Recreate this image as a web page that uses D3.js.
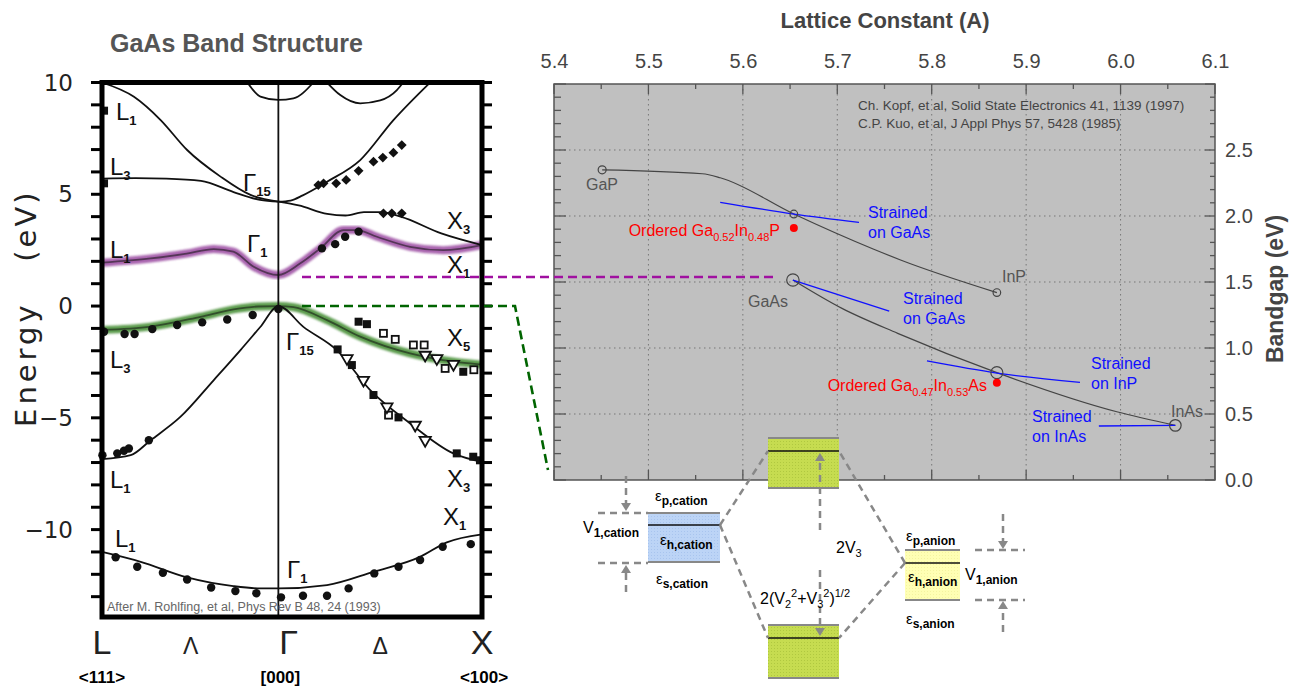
<!DOCTYPE html>
<html><head><meta charset="utf-8">
<script src="https://cdn.jsdelivr.net/npm/d3@7"></script>
<style>body{margin:0;background:#fff}svg{display:block}</style>
</head><body>
<svg id="fig" width="1300" height="687"></svg>
<script>
// ================= GaAs band structure (k path L – Γ – X, energy in eV) =================
const kSymbols = ["L", "Λ", "Γ", "Δ", "X"];
const kSymbolPos = [-0.866, -0.43, 0.05, 0.5, 1];
const kDirections = ["<111>", "[000]", "<100>"];
const kDirectionPos = [-0.866, 0.01, 1.01];
const energyTicks = [10, 5, 0, -5, -10];

// calculated bands
const bandUpperL = [[-0.866,10.0],[-0.709,9.36],[-0.578,8.32],[-0.448,6.98],[-0.284,5.79],[-0.137,4.97],[0,4.67]];
const bandL3c = [[-0.866,5.7],[-0.7,5.72],[-0.55,5.7],[-0.38,5.6],[-0.22,5.1],[-0.09,4.75],[0,4.67]];
const bandUpperR = [[0,4.67],[0.06,4.72],[0.12,4.95],[0.239,5.56],[0.402,6.53],[0.565,8.32],[0.745,10.0]];
const bandX3c = [[0,4.67],[0.1,4.5],[0.24,4.12],[0.33,4.05],[0.42,4.2],[0.5,4.2],[0.6,4.0],[0.8,3.25],[1,2.73]];
const bandTopU1 = [[-0.152,10.0],[-0.088,9.37],[0,9.22],[0.074,9.29],[0.172,10.0]];
const bandTopU2 = [[0.239,10.0],[0.304,9.44],[0.402,9.07],[0.5,9.2],[0.582,9.66],[0.613,10.0]];
const bandCond = [[-0.866,1.94],[-0.627,2.13],[-0.45,2.35],[-0.317,2.55],[-0.221,2.43],[-0.121,1.76],[0,1.39],[0.108,1.91],[0.206,2.58],[0.32,3.4],[0.386,3.4],[0.484,3.1],[0.647,2.65],[0.81,2.5],[1,2.73]];
const bandHeavy = [[-0.866,-1.07],[-0.627,-0.92],[-0.382,-0.48],[-0.22,-0.15],[-0.1,-0.02],[0,0],[0.075,-0.05],[0.239,-0.63],[0.402,-1.37],[0.647,-2.12],[0.809,-2.42],[1,-2.62]];
const bandLight = [[-0.866,-6.85],[-0.725,-6.67],[-0.627,-6.0],[-0.48,-4.95],[-0.317,-3.31],[-0.186,-1.97],[-0.09,-0.95],[0,0],[0.123,-0.93],[0.287,-1.97],[0.451,-3.76],[0.647,-5.25],[0.859,-6.59],[1,-6.97]];
const bandLowest = [[-0.866,-11.0],[-0.676,-11.44],[-0.448,-12.14],[-0.221,-12.53],[-0.088,-12.63],[0,-12.63],[0.239,-12.48],[0.466,-11.89],[0.696,-11.22],[0.827,-10.57],[1,-10.21]];

// measured points
const expCircles = [
  [-0.799,-11.24],[-0.693,-11.66],[-0.567,-11.93],[-0.448,-12.23],[-0.330,-12.59],[-0.211,-12.75],[-0.108,-12.85],
  [0.013,-13.03],[0.121,-12.96],[0.239,-12.96],[0.345,-12.63],[0.471,-11.96],[0.590,-11.66],[0.696,-11.36],[0.807,-10.77],[0.945,-10.65],
  [-0.864,-6.67],[-0.791,-6.59],[-0.758,-6.47],[-0.734,-6.37],[-0.636,-6.0],
  [-0.856,-1.15],[-0.755,-1.25],[-0.706,-1.25],[-0.619,-1.03],[-0.497,-0.85],[-0.374,-0.73],[-0.251,-0.6],[-0.126,-0.4],[0,-0.13],
  [0.214,2.58],[0.279,2.77],[0.328,3.1],[0.394,3.33]
];
const expSquares = [[-0.856,8.74],[-0.856,5.49],[0.394,-0.70],[0.435,-0.81],[0.908,-2.94],[0.291,-1.94],[0.361,-2.64],[0.467,-3.98],[0.59,-4.98],[0.876,-6.59],[0.957,-6.74],[0.99,-6.9]];
const expOpenSquares = [[0.516,-1.22],[0.574,-1.49],[0.663,-1.74],[0.716,-1.74],[0.819,-2.79],[0.541,-4.88],[0.96,-2.85]];
const expTriangles = [[0.721,-2.19],[0.778,-2.34],[0.337,-2.34],[0.418,-3.31],[0.533,-4.5],[0.672,-5.32],[0.721,-6.0],[0.86,-2.6]];
const expDiamonds = [[0.196,5.41],[0.222,5.49],[0.284,5.49],[0.333,5.64],[0.394,6.05],[0.467,6.46],[0.513,6.64],[0.565,6.86],[0.606,7.2],[0.516,4.15],[0.557,4.15],[0.606,4.15]];

// symmetry point labels: symbol, subscript
const bandLabelText = [["L","1"],["L","3"],["Γ","15"],["L","1"],["Γ","1"],["X","3"],["X","1"],["L","3"],["Γ","15"],["X","5"],["L","1"],["X","3"],["X","1"],["L","1"],["Γ","1"]];

// ================= Bandgap vs lattice constant =================
const latticeTicks = [5.4,5.5,5.6,5.7,5.8,5.9,6.0,6.1];
const gapTicks = [0,0.5,1.0,1.5,2.0,2.5];
const gaInPLattice = [5.451,5.557,5.576,5.654,5.738,5.767,5.869];
const gaInPGap     = [2.35,2.32,2.29,2.015,1.75,1.667,1.42];
const gaInAsLattice = [5.653,5.705,5.764,5.869,5.996,6.058];
const gaInAsGap     = [1.515,1.30,1.111,0.813,0.517,0.414];
const binaryNames = ["GaP","GaAs","InP","InAs"];
const binaryLattice = [5.451,5.653,5.869,6.058];
const binaryGap = [2.35,1.515,1.42,0.414];
const matchedLattice = [5.654,5.869];
const matchedGap = [2.015,0.813];
const orderedLattice = [5.654,5.869];
const orderedGap = [1.909,0.737];
const strainedOnGaAsP = [[5.576,2.104],[5.654,2.015],[5.723,1.952]];
const strainedOnGaAs = [[5.653,1.515],[5.755,1.28]];
const strainedOnInP = [[5.795,0.902],[5.869,0.81],[5.957,0.74]];
const strainedOnInAs = [[5.977,0.409],[6.058,0.414]];
const strainedSubstrates = ["on GaAs","on GaAs","on InP","on InAs"];
const sources = ["Ch. Kopf, et al, Solid State Electronics 41, 1139 (1997)","C.P. Kuo, et al, J Appl Phys 57, 5428 (1985)"];

const svg = d3.select("#fig");
const defs = svg.append("defs");
const SANS = "'Liberation Sans', Arial, sans-serif";

// rich text helper: parts are [string, offset] with offset "sub", "sup" or none
function rich(parent, x, y, parts, opts) {
  const o = Object.assign({ size: 16, small: 11, color: "#000", anchor: "start", subBold: false, subDy: 5, supDy: -7 }, opts || {});
  const t = parent.append("text").attr("x", x).attr("y", y).attr("font-family", SANS).attr("font-size", o.size)
    .attr("fill", o.color).attr("text-anchor", o.anchor);
  let cur = 0;
  parts.forEach(([s, pos]) => {
    const target = pos === "sub" ? o.subDy : pos === "sup" ? o.supDy : 0;
    const ts = t.append("tspan").attr("dy", target - cur).text(s);
    if (pos) { ts.attr("font-size", o.small); if (o.subBold) ts.attr("font-weight", "bold"); }
    cur = target;
  });
  return t;
}

// ---------------- left panel ----------------
const bx = d3.scaleLinear().domain([-0.866, 1]).range([102, 482]);
const by = d3.scaleLinear().domain([-10, 10]).range([529.6, 82.5]);
const eBottom = by.invert(617);
const left = svg.append("g");

left.append("text").attr("x", 110).attr("y", 52).attr("font-family", SANS).attr("font-weight", "bold")
  .attr("font-size", 25).attr("fill", "#555").text("GaAs Band Structure");

const blur = defs.append("filter").attr("id", "soft");
blur.append("feGaussianBlur").attr("stdDeviation", 0.9);

const bandLine = d3.line().x(d => bx(d[0])).y(d => by(d[1])).curve(d3.curveMonotoneX);

// highlighted bands (drawn under the black curves)
left.append("path").attr("d", bandLine(bandCond)).attr("fill", "none").attr("stroke", "#9a4aa0")
  .attr("stroke-width", 8).attr("opacity", 0.85).attr("filter", "url(#soft)");
left.append("path").attr("d", bandLine(bandHeavy)).attr("fill", "none").attr("stroke", "#3f8a2e")
  .attr("stroke-width", 8).attr("opacity", 0.85).attr("filter", "url(#soft)");

[bandUpperL, bandL3c, bandUpperR, bandX3c, bandTopU1, bandTopU2, bandCond, bandHeavy, bandLight, bandLowest]
  .forEach(b => left.append("path").attr("d", bandLine(b)).attr("fill", "none").attr("stroke", "#111")
    .attr("stroke-width", 1.8).attr("opacity", (b === bandCond || b === bandHeavy) ? 0.55 : 1));

// Γ line
left.append("line").attr("x1", bx(0)).attr("x2", bx(0)).attr("y1", by(10)).attr("y2", 617)
  .attr("stroke", "#111").attr("stroke-width", 1.8);

// experimental points
left.selectAll(".ec").data(expCircles).join("circle").attr("cx", d => bx(d[0])).attr("cy", d => by(d[1]))
  .attr("r", 4.2).attr("fill", "#111");
left.selectAll(".es").data(expSquares).join("rect").attr("x", d => bx(d[0]) - 4).attr("y", d => by(d[1]) - 4)
  .attr("width", 8).attr("height", 8).attr("fill", "#111");
left.selectAll(".eo").data(expOpenSquares).join("rect").attr("x", d => bx(d[0]) - 3.5).attr("y", d => by(d[1]) - 3.5)
  .attr("width", 7).attr("height", 7).attr("fill", "#fff").attr("stroke", "#111").attr("stroke-width", 1.8);
left.selectAll(".et").data(expTriangles).join("path")
  .attr("d", d3.symbol(d3.symbolTriangle, 55)).attr("transform", d => `translate(${bx(d[0])},${by(d[1])}) rotate(180)`)
  .attr("fill", "#fff").attr("stroke", "#111").attr("stroke-width", 1.8);
left.selectAll(".ed").data(expDiamonds).join("path")
  .attr("d", d3.symbol(d3.symbolSquare, 48)).attr("transform", d => `translate(${bx(d[0])},${by(d[1])}) rotate(45)`)
  .attr("fill", "#111");

// frame
left.append("rect").attr("x", bx(-0.866)).attr("y", by(10)).attr("width", bx(1) - bx(-0.866)).attr("height", 617 - by(10))
  .attr("fill", "none").attr("stroke", "#000").attr("stroke-width", 5);
// energy ticks, 1 eV apart, on both sides
const eTicks = d3.range(10, eBottom, -1);
left.selectAll(".tl").data(eTicks).join("line").attr("x1", bx(-0.866) - 11).attr("x2", bx(-0.866))
  .attr("y1", d => by(d)).attr("y2", d => by(d)).attr("stroke", "#000").attr("stroke-width", 3);
left.selectAll(".tr").data(eTicks).join("line").attr("x1", bx(1)).attr("x2", bx(1) + 10)
  .attr("y1", d => by(d)).attr("y2", d => by(d)).attr("stroke", "#000").attr("stroke-width", 3);
left.selectAll(".tt").data(energyTicks).join("text").attr("x", 73).attr("y", d => by(d) + 8)
  .attr("text-anchor", "end").attr("font-family", "'DejaVu Sans', sans-serif").attr("font-size", 23)
  .attr("fill", "#222").text(d => d < 0 ? "−" + Math.abs(d) : d);

left.append("text").attr("transform", `translate(36,${by(-2.6)}) rotate(-90)`).attr("text-anchor", "middle")
  .attr("font-family", "'DejaVu Sans', sans-serif").attr("font-size", 29).attr("letter-spacing", 4).attr("fill", "#222").text("Energy");
left.append("text").attr("transform", `translate(36,${by(3.6)}) rotate(-90)`).attr("text-anchor", "middle")
  .attr("font-family", "'DejaVu Sans', sans-serif").attr("font-size", 29).attr("letter-spacing", 3).attr("fill", "#222").text("(eV)");

// k-path symbols and directions
left.selectAll(".ks").data(kSymbols).join("text").attr("x", (d, i) => bx(kSymbolPos[i])).attr("y", 654)
  .attr("text-anchor", "middle").attr("font-family", SANS).attr("font-size", (d, i) => (i % 2 ? 23 : 34))
  .attr("fill", "#222").text(d => d);
left.selectAll(".kd").data(kDirections).join("text").attr("x", (d, i) => bx(kDirectionPos[i])).attr("y", 683)
  .attr("text-anchor", "middle").attr("font-family", SANS).attr("font-weight", "bold").attr("font-size", 17)
  .attr("fill", "#000").text(d => d);

// band labels
const bandLabelPos = [[116,120],[110,175],[243,191],[110,258],[247,252],[447,229],[447,273],[110,368],[286,350],[447,346],[110,488],[447,487],[443,525],[115,547],[287,578]];
bandLabelText.forEach(([m, s], i) =>
  rich(left, bandLabelPos[i][0], bandLabelPos[i][1], [[m], [s, "sub"]], { size: 24, small: 13, color: "#111", subBold: true }));

left.append("text").attr("x", 107).attr("y", 611).attr("font-family", SANS).attr("font-size", 12.5).attr("fill", "#666")
  .text("After M. Rohlfing, et al, Phys Rev B 48, 24 (1993)");

// ---------------- right panel ----------------
const gx = d3.scaleLinear().domain([5.4, 6.1]).range([554, 1215]);
const gy = d3.scaleLinear().domain([0, 3]).range([480, 84]);
const right = svg.append("g");

right.append("rect").attr("x", gx(5.4)).attr("y", gy(3)).attr("width", gx(6.1) - gx(5.4)).attr("height", gy(0) - gy(3))
  .attr("fill", "#c0c0c0");

// dotted grid
right.selectAll(".gv").data(latticeTicks.slice(1, -1)).join("line").attr("x1", d => gx(d)).attr("x2", d => gx(d))
  .attr("y1", gy(3)).attr("y2", gy(0)).attr("stroke", "#777").attr("stroke-width", 1).attr("stroke-dasharray", "1.5,3.5");
right.selectAll(".gh").data(gapTicks.slice(1)).join("line").attr("x1", gx(5.4)).attr("x2", gx(6.1))
  .attr("y1", d => gy(d)).attr("y2", d => gy(d)).attr("stroke", "#777").attr("stroke-width", 1).attr("stroke-dasharray", "1.5,3.5");

// inward ticks on all four sides
const xMinor = d3.range(5.4, 6.1001, 0.05).map(v => +v.toFixed(2));
const isMajorX = v => Math.abs(v * 10 - Math.round(v * 10)) < 1e-6;
const yMinor = d3.range(0, 3.0001, 0.1).map(v => +v.toFixed(1));
const isMajorY = v => Math.abs(v * 2 - Math.round(v * 2)) < 1e-6;
const tick = (x1, y1, x2, y2) => right.append("line").attr("x1", x1).attr("y1", y1).attr("x2", x2).attr("y2", y2)
  .attr("stroke", "#555").attr("stroke-width", 1.3);
xMinor.forEach(v => { const L = isMajorX(v) ? 10 : 5; tick(gx(v), gy(3), gx(v), gy(3) + L); tick(gx(v), gy(0), gx(v), gy(0) - L); });
yMinor.forEach(v => { tick(gx(5.4), gy(v), gx(5.4) + (isMajorY(v) ? 12 : 7), gy(v)); tick(gx(6.1), gy(v), gx(6.1) - (isMajorY(v) ? 10 : 5), gy(v)); });

right.append("rect").attr("x", gx(5.4)).attr("y", gy(3)).attr("width", gx(6.1) - gx(5.4)).attr("height", gy(0) - gy(3))
  .attr("fill", "none").attr("stroke", "#555").attr("stroke-width", 1.5);

// axis labels
const topAxis = d3.axisTop(gx).tickValues(latticeTicks).tickSize(0).tickPadding(16).tickFormat(d3.format(".1f"));
right.append("g").attr("transform", `translate(0,${gy(3)})`).call(topAxis)
  .call(g => g.select(".domain").remove())
  .call(g => g.selectAll("text").attr("font-family", SANS).attr("font-size", 20).attr("fill", "#444"));
const rightAxis = d3.axisRight(gy).tickValues(gapTicks).tickSize(0).tickPadding(10).tickFormat(d3.format(".1f"));
right.append("g").attr("transform", `translate(${gx(6.1)},0)`).call(rightAxis)
  .call(g => g.select(".domain").remove())
  .call(g => g.selectAll("text").attr("font-family", SANS).attr("font-size", 20).attr("fill", "#444"));

right.append("text").attr("x", 885).attr("y", 28).attr("text-anchor", "middle").attr("font-family", SANS)
  .attr("font-weight", "bold").attr("font-size", 22).attr("fill", "#444").text("Lattice Constant (A)");
right.append("text").attr("transform", `translate(1283,289) rotate(-90)`).attr("text-anchor", "middle")
  .attr("font-family", SANS).attr("font-weight", "bold").attr("font-size", 23).attr("fill", "#444").text("Bandgap (eV)");

right.selectAll(".src").data(sources).join("text").attr("x", 858).attr("y", (d, i) => 110 + i * 18)
  .attr("font-family", SANS).attr("font-size", 13.5).attr("fill", "#444").text(d => d);

// alloy curves
const gLine = d3.line().x(d => gx(d[0])).y(d => gy(d[1])).curve(d3.curveMonotoneX);
right.append("path").attr("d", gLine(d3.zip(gaInPLattice, gaInPGap))).attr("fill", "none").attr("stroke", "#444").attr("stroke-width", 1.2);
right.append("path").attr("d", gLine(d3.zip(gaInAsLattice, gaInAsGap))).attr("fill", "none").attr("stroke", "#444").attr("stroke-width", 1.2);
[strainedOnGaAsP, strainedOnGaAs, strainedOnInP, strainedOnInAs].forEach(s =>
  right.append("path").attr("d", gLine(s)).attr("fill", "none").attr("stroke", "#1010ff").attr("stroke-width", 1.3));

const binaryR = [4, 6.2, 3.8, 5.8];
right.selectAll(".bin").data(binaryNames).join("circle").attr("cx", (d, i) => gx(binaryLattice[i])).attr("cy", (d, i) => gy(binaryGap[i]))
  .attr("r", (d, i) => binaryR[i]).attr("fill", "none").attr("stroke", "#444").attr("stroke-width", 1.2);
right.selectAll(".mat").data(matchedLattice).join("circle").attr("cx", d => gx(d)).attr("cy", (d, i) => gy(matchedGap[i]))
  .attr("r", (d, i) => i ? 6 : 3.8).attr("fill", "none").attr("stroke", "#444").attr("stroke-width", 1.2);
right.selectAll(".ord").data(orderedLattice).join("circle").attr("cx", d => gx(d)).attr("cy", (d, i) => gy(orderedGap[i]))
  .attr("r", 4).attr("fill", "#ff0000");

const binLabelPos = [[602, 190], [768, 307], [1014, 282], [1187, 417]];
right.selectAll(".bl").data(binaryNames).join("text").attr("x", (d, i) => binLabelPos[i][0]).attr("y", (d, i) => binLabelPos[i][1])
  .attr("text-anchor", "middle").attr("font-family", SANS).attr("font-size", 16).attr("fill", "#555").text(d => d);

rich(right, 780, 236, [["Ordered Ga"], ["0.52", "sub"], ["In"], ["0.48", "sub"], ["P"]], { color: "#ff0000", anchor: "end" });
rich(right, 987, 391, [["Ordered Ga"], ["0.47", "sub"], ["In"], ["0.53", "sub"], ["As"]], { color: "#ff0000", anchor: "end" });

const strainLabelPos = [[868, 218], [903, 304], [1091, 369], [1032, 422]];
strainedSubstrates.forEach((s, i) => {
  const [x, y] = strainLabelPos[i];
  right.append("text").attr("x", x).attr("y", y).attr("font-family", SANS).attr("font-size", 16).attr("fill", "#1010ff").text("Strained");
  right.append("text").attr("x", x).attr("y", y + 20).attr("font-family", SANS).attr("font-size", 16).attr("fill", "#1010ff").text(s);
});

// ---------------- connectors between panels ----------------
svg.append("line").attr("x1", 302).attr("x2", 777).attr("y1", 277).attr("y2", 277)
  .attr("stroke", "#a010a0").attr("stroke-width", 2.6).attr("stroke-dasharray", "9,5");
svg.append("path").attr("d", `M302,${by(0)}H515L548,470`).attr("fill", "none")
  .attr("stroke", "#006400").attr("stroke-width", 2.6).attr("stroke-dasharray", "9,5");

// ---------------- tight-binding level diagram ----------------
const dg = svg.append("g");
function dotted(id, base, dot) {
  const p = defs.append("pattern").attr("id", id).attr("width", 3).attr("height", 3).attr("patternUnits", "userSpaceOnUse");
  p.append("rect").attr("width", 3).attr("height", 3).attr("fill", base);
  p.append("rect").attr("width", 1).attr("height", 1).attr("fill", dot);
}
dotted("pGreen", "#c6dc50", "#b0c840");
dotted("pBlue", "#bcd4f6", "#a8c4ee");
dotted("pYellow", "#ffffb4", "#f4f4a0");

const level = (x, y0, y1, yl, w, fill) => {
  dg.append("rect").attr("x", x).attr("y", y0).attr("width", w).attr("height", y1 - y0).attr("fill", fill);
  dg.append("line").attr("x1", x).attr("x2", x + w).attr("y1", y0).attr("y2", y0).attr("stroke", "#888").attr("stroke-width", 2);
  dg.append("line").attr("x1", x).attr("x2", x + w).attr("y1", y1).attr("y2", y1).attr("stroke", "#888").attr("stroke-width", 2);
  dg.append("line").attr("x1", x).attr("x2", x + w).attr("y1", yl).attr("y2", yl).attr("stroke", "#111").attr("stroke-width", 1.5);
};
level(768, 438, 488, 451, 71, "url(#pGreen)");
level(768, 625, 678, 638, 71, "url(#pGreen)");
level(648, 513, 562, 525, 72, "url(#pBlue)");
level(905, 550, 600, 563, 55, "url(#pYellow)");

const dash = (d) => dg.append("path").attr("d", d).attr("fill", "none").attr("stroke", "#888").attr("stroke-width", 2.5).attr("stroke-dasharray", "7,5");
dash("M720,525L768,451"); dash("M720,525L768,638");
dash("M905,563L839,451"); dash("M905,563L839,638");
dash("M598,513H648"); dash("M598,563H648");
dash("M975,550H1025"); dash("M975,600H1025");
dash("M626,476V503"); dash("M626,592V570");
dash("M1003,514V541"); dash("M1003,632V608");
dash("M820,530V460"); dash("M820,570V628");
const arrow = (x, y, dir) => dg.append("path")
  .attr("d", `M${x - 5},${y - 8 * dir}L${x + 5},${y - 8 * dir}L${x},${y}Z`).attr("fill", "#888");
arrow(626, 511, 1); arrow(626, 565, -1); arrow(1003, 549, 1); arrow(1003, 601, -1); arrow(820, 453, -1); arrow(820, 636, 1);

const epsOpts = { size: 15, small: 12, subBold: true, subDy: 4 };
rich(dg, 655, 501, [["ε"], ["p,cation", "sub"]], epsOpts);
rich(dg, 660, 545, [["ε"], ["h,cation", "sub"]], epsOpts);
rich(dg, 656, 584, [["ε"], ["s,cation", "sub"]], epsOpts);
rich(dg, 906, 541, [["ε"], ["p,anion", "sub"]], epsOpts);
rich(dg, 908, 582, [["ε"], ["h,anion", "sub"]], epsOpts);
rich(dg, 906, 624, [["ε"], ["s,anion", "sub"]], epsOpts);
rich(dg, 583, 533, [["V"], ["1,cation", "sub"]], { size: 16, small: 12, subBold: true, subDy: 4 });
rich(dg, 965, 580, [["V"], ["1,anion", "sub"]], { size: 16, small: 12, subBold: true, subDy: 4 });
rich(dg, 836, 553, [["2V"], ["3", "sub"]], { size: 16, small: 11, subDy: 4 });
rich(dg, 760, 604, [["2(V"], ["2", "sub"], ["2", "sup"], ["+V"], ["3", "sub"], ["2", "sup"], [")"], ["1/2", "sup"]],
  { size: 16, small: 11, subDy: 4, supDy: -7 });
</script>
</body></html>
